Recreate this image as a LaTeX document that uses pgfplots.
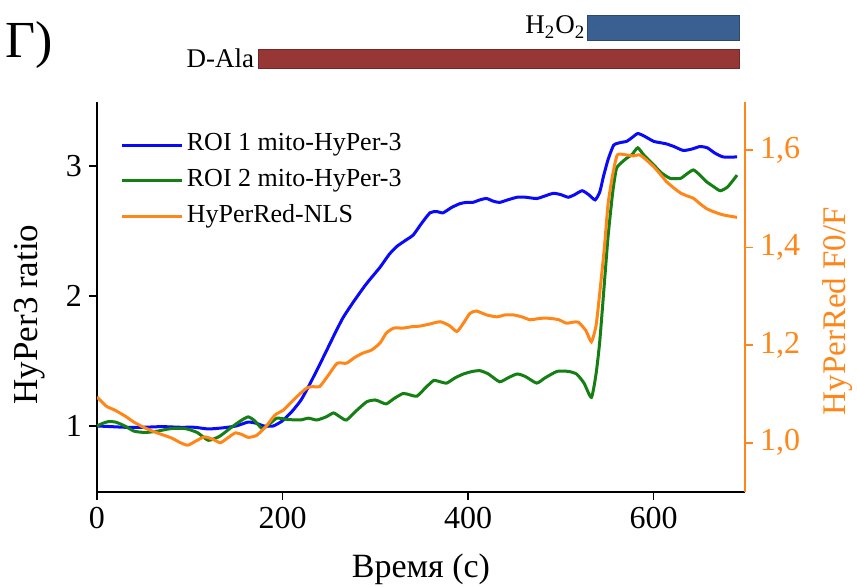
\documentclass[border=0pt]{standalone}
\usepackage{fontspec}
\setmainfont{Liberation Serif}
\usepackage{pgfplots}
\pgfplotsset{compat=1.18}

\definecolor{cblue}{RGB}{10,10,250}
\definecolor{cgreen}{RGB}{20,128,20}
\definecolor{corange}{RGB}{255,135,25}
\definecolor{barred}{RGB}{150,55,53}
\definecolor{barblue}{RGB}{58,96,145}

\pgfplotsset{
  panel/.style={
    scale only axis, width=324pt, height=195.15pt,
    at={(0pt,0pt)}, anchor=south west,
    xmin=0, xmax=698.6,
    tick align=outside, major tick length=4pt,
    tick label style={font=\fontsize{16}{18}\selectfont},
    /pgf/number format/assume math mode=true,
  },
  trace/.style={line width=1.5pt, smooth, tension=0.35},
}

\begin{document}
\begin{tikzpicture}
\begin{axis}[panel,
    ymin=0.492, ymax=3.495,
    axis x line*=bottom, axis y line*=left,
    axis line style={-, line width=0.9pt},
    tick style={line width=0.9pt, black},
    xtick={0,200,400,600}, ytick={1,2,3},
    clip=false,
    legend cell align=left,
    legend style={draw=none, fill=none, at={(0.027,0.937)}, anchor=north west,
      font=\fontsize{13}{15}\selectfont, row sep=3pt,
      nodes={inner sep=1.5pt, text depth=0.3em}},
    legend image code/.code={\draw[#1] (0pt,0pt) -- (30pt,0pt);},
]
\addplot[cblue, trace] coordinates {
(0,1.00) (15,0.995) (30,0.99) (50,0.99) (70,0.995) (90,0.99) (105,0.99)
(120,0.977) (135,0.985) (150,1.00) (163,1.03) (172,1.02) (180,1.00) (190,1.00)
(200,1.04) (210,1.11) (220,1.20) (230,1.33) (242,1.50) (255,1.69) (265,1.83)
(276,1.95) (290,2.09) (305,2.22) (315,2.32) (323,2.38) (333,2.43) (341,2.47)
(350,2.56) (359,2.64) (366,2.65) (373,2.64) (382,2.68) (391,2.71) (398,2.72)
(405,2.72) (413,2.74) (420,2.75) (427,2.73) (434,2.72) (443,2.74) (453,2.76)
(462,2.76) (474,2.75) (483,2.77) (492,2.79) (500,2.78) (508,2.76) (515,2.78)
(523,2.81) (530,2.78) (537,2.74) (542,2.80) (546,2.92) (551,3.05) (557,3.16)
(564,3.18) (571,3.19) (577,3.22) (583,3.25) (590,3.23) (600,3.19) (607,3.18)
(614,3.17) (622,3.15) (632,3.12) (641,3.13) (650,3.15) (658,3.14) (666,3.10)
(675,3.07) (690,3.07)
};
\addlegendentry{ROI 1 mito-HyPer-3}
\addplot[cgreen, trace] coordinates {
(0,1.00) (6,1.02) (12,1.033) (20,1.03) (30,1.00) (40,0.96) (52,0.95) (65,0.96)
(80,0.98) (95,0.98) (108,0.95) (120,0.89) (132,0.92) (145,0.99) (155,1.04)
(163,1.07) (170,1.04) (178,0.98) (185,1.01) (194,1.06) (205,1.05) (219,1.046)
(228,1.06) (237,1.046) (247,1.07) (255,1.10) (262,1.07) (269,1.046) (280,1.12)
(291,1.187) (300,1.20) (305,1.187) (312,1.17) (320,1.21) (330,1.25) (337,1.24)
(345,1.23) (355,1.30) (363,1.35) (370,1.34) (377,1.33) (386,1.37) (395,1.40)
(405,1.42) (413,1.425) (422,1.40) (434,1.34) (443,1.37) (453,1.40) (462,1.38)
(474,1.33) (483,1.37) (496,1.42) (508,1.42) (517,1.40) (525,1.33) (533,1.22)
(538,1.40) (542,1.65) (547,2.10) (551,2.46) (556,2.80) (560,2.98) (566,3.03)
(571,3.06) (577,3.09) (583,3.14) (590,3.08) (600,3.01) (608,2.95) (618,2.905)
(629,2.905) (636,2.94) (643,2.97) (650,2.93) (657,2.88) (665,2.84) (672,2.81)
(680,2.84) (690,2.93)
};
\addlegendentry{ROI 2 mito-HyPer-3}
\addlegendimage{corange, line width=1.5pt}
\addlegendentry{HyPerRed-NLS}
% treatment bars
\draw[draw=barred!75!black, fill=barred] (axis cs:174,3.754) rectangle (axis cs:693,3.90);
\draw[draw=barblue!75!black, fill=barblue] (axis cs:529,3.97) rectangle (axis cs:693,4.16);
\node[anchor=east, font=\fontsize{13.5}{16}\selectfont, inner sep=2pt] at (axis cs:174,3.83) {D-Ala};
\node[anchor=east, font=\fontsize{13.5}{16}\selectfont, inner sep=1pt] at (axis cs:529,4.07) {H\textsubscript{2}O\textsubscript{2}};
\end{axis}

\begin{axis}[panel,
    ymin=0.899, ymax=1.699,
    axis x line=none, axis y line*=right,
    axis line style={-, line width=0.9pt, corange},
    tick style={line width=0.9pt, corange},
    ytick={1.0,1.2,1.4,1.6},
    yticklabel style={corange, /pgf/number format/.cd, fixed, fixed zerofill, precision=1, use comma},
]
\addplot[corange, trace] coordinates {
(0,1.094) (10,1.075) (19,1.067) (30,1.055) (40,1.042) (52,1.03) (65,1.02) (80,1.01)
(90,1.00) (98,0.995) (108,1.005) (116,1.012) (125,1.007) (133,1.00) (141,1.01)
(149,1.02) (156,1.017) (163,1.011) (172,1.015) (182,1.033) (192,1.057) (201,1.067)
(213,1.09) (226,1.112) (233,1.115) (240,1.115) (250,1.14) (259,1.163) (269,1.163)
(278,1.175) (287,1.184) (296,1.19) (305,1.204) (312,1.225) (320,1.235) (330,1.235)
(340,1.238) (348,1.239) (358,1.243) (370,1.248) (380,1.24) (388,1.228) (395,1.245)
(402,1.265) (409,1.27) (420,1.262) (431,1.258) (440,1.262) (449,1.262) (458,1.258)
(467,1.252) (478,1.255) (488,1.255) (498,1.252) (506,1.245) (513,1.247) (519,1.247)
(527,1.23) (533,1.207) (538,1.24) (542,1.307) (547,1.40) (551,1.49) (556,1.55)
(561,1.59) (570,1.59) (578,1.588) (585,1.59) (592,1.58) (600,1.566) (607,1.551)
(614,1.535) (622,1.522) (629,1.512) (636,1.506) (643,1.501) (650,1.49) (657,1.48)
(664,1.474) (675,1.467) (690,1.462)
};
\end{axis}

% axis titles, placed in pt from the plot's lower left corner
\node[anchor=base, font=\fontsize{17}{20}\selectfont] at (162pt,-43pt) {Время (с)};
\node[rotate=90, anchor=base, font=\fontsize{17.5}{20}\selectfont] at (-30pt,88.75pt) {HyPer3 ratio};
\node[rotate=90, anchor=base, text=corange, font=\fontsize{16.5}{20}\selectfont] at (374pt,90.5pt) {HyPerRed F0/F};
\node[anchor=west, inner sep=0pt, font=\fontsize{26}{30}\selectfont] at (-46pt,223.5pt) {Г)};
\pgfresetboundingbox
\useasboundingbox (-48.5pt,-47.5pt) rectangle (380pt,246pt);
\end{tikzpicture}
\end{document}
